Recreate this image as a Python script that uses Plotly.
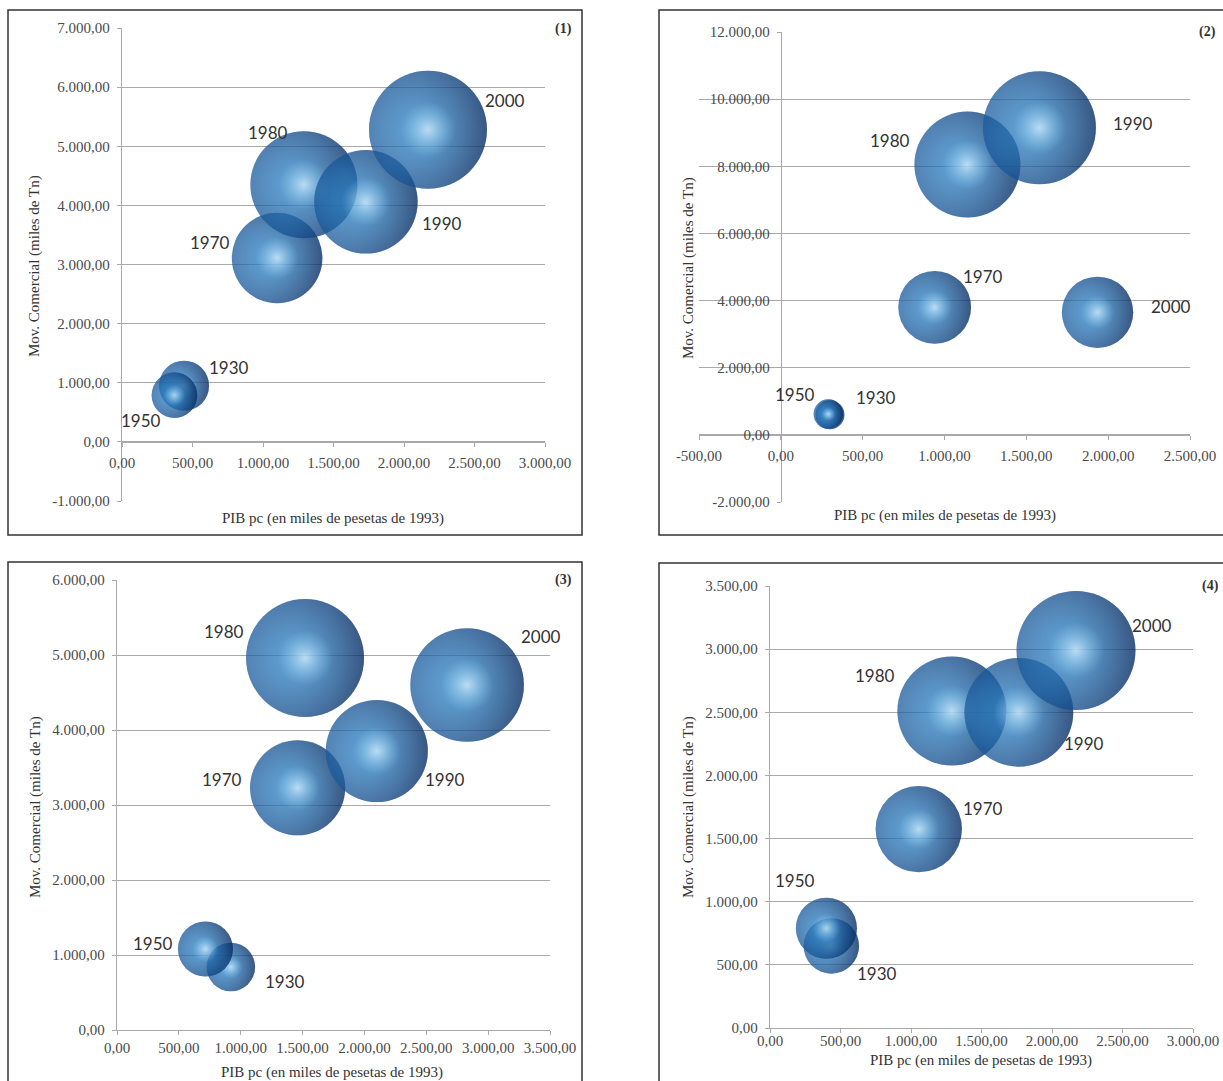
import math
import plotly.graph_objects as go

W, H = 1223, 1081

# ---------------- data ----------------
years = [1930, 1950, 1970, 1980, 1990, 2000]

p1_pib = [440, 372, 1100, 1290, 1730, 2170]
p1_mov = [950, 790, 3110, 4350, 4060, 5280]

p2_pib = [300, 290, 940, 1140, 1580, 1935]
p2_mov = [600, 620, 3800, 8050, 9150, 3650]

p3_pib = [920, 715, 1460, 1520, 2100, 2830]
p3_mov = [840, 1080, 3230, 4960, 3720, 4600]

p4_pib = [435, 400, 1055, 1290, 1765, 2170]
p4_mov = [650, 790, 1575, 2510, 2500, 2990]

x_title = "PIB pc (en miles de pesetas de 1993)"
y_title = "Mov. Comercial (miles de Tn)"
panel_tags = ["(1)", "(2)", "(3)", "(4)"]


def fmt(v):
    s = f"{v:,.2f}"
    return s.replace(",", "X").replace(".", ",").replace("X", ".")


# ---------------- layout specs (pixels) ----------------
panels = [
    dict(pib=p1_pib, mov=p1_mov, px=(122, 545), py=(28, 501),
         xr=(0, 3000), xd=500, yr=(-1000, 7000), yd=1000, dmax=118,
         xfree=True, yfree=False, xstand=3,
         box=(8, 10, 582, 535), tag=(563, 29), xt=(333, 518), yt=(35, 266),
         lab={1930: (0.92, -0.72, 'l'), 1950: (-0.5, 1.1, 'r'), 1970: (-1.0, -0.34, 'r'),
              1980: (-0.26, -0.97, 'r'), 1990: (1.04, 0.41, 'l'), 2000: (0.94, -0.49, 'l')}),
    dict(pib=p2_pib, mov=p2_mov, px=(699, 1190), py=(32, 502),
         xr=(-500, 2500), xd=500, yr=(-2000, 12000), yd=2000, dmax=113,
         xfree=True, yfree=True, xstand=3,
         box=(659, 10, 1240, 535), tag=(1207, 32), xt=(945, 515), yt=(688, 268),
         lab={1930: (1.66, -1.16, 'l'), 1950: (-0.8, -1.33, 'r'), 1970: (0.71, -0.85, 'l'),
              1980: (-1.05, -0.45, 'r'), 1990: (1.27, -0.08, 'l'), 2000: (1.45, -0.16, 'l')}),
    dict(pib=p3_pib, mov=p3_mov, px=(117, 550), py=(580, 1030),
         xr=(0, 3500), xd=500, yr=(0, 6000), yd=1000, dmax=118,
         xfree=False, yfree=False, xstand=0,
         box=(8, 562, 582, 1100), tag=(563, 580), xt=(332, 1072), yt=(35, 807),
         lab={1930: (1.32, 0.6, 'l'), 1950: (-1.11, -0.21, 'r'), 1970: (-1.13, -0.17, 'r'),
              1980: (-1.0, -0.45, 'r'), 1990: (0.91, 0.55, 'l'), 2000: (0.91, -0.86, 'l')}),
    dict(pib=p4_pib, mov=p4_mov, px=(770, 1193), py=(586, 1028),
         xr=(0, 3000), xd=500, yr=(0, 3500), yd=500, dmax=119,
         xfree=False, yfree=False, xstand=-5,
         box=(659, 563, 1240, 1100), tag=(1210, 586), xt=(981, 1060), yt=(688, 807),
         lab={1930: (0.86, 1.0, 'l'), 1950: (-0.31, -1.57, 'r'), 1970: (0.98, -0.47, 'l'),
              1980: (-1.0, -0.66, 'r'), 1990: (0.8, 0.57, 'l'), 2000: (0.9, -0.42, 'l')}),
]

GRID = '#a9a9a9'
TICKFONT = dict(family='Liberation Serif', size=15, color='#4a4a4a')
TITLEFONT = dict(family='Liberation Serif', size=15, color='#333333')
LABELFONT = dict(family='Lato', size=17, color='#333333')

fig = go.Figure()
layout = dict(width=W, height=H, margin=dict(l=0, r=0, t=0, b=0, pad=0, autoexpand=False),
              paper_bgcolor='white', plot_bgcolor='rgba(0,0,0,0)',
              showlegend=False, shapes=[], annotations=[])


def fx(px):
    return px / W


def fy(py):
    return 1 - py / H


for k, p in enumerate(panels, start=1):
    xa = 'x' if k == 1 else f'x{k}'
    ya = 'y' if k == 1 else f'y{k}'
    xkey = 'xaxis' if k == 1 else f'xaxis{k}'
    ykey = 'yaxis' if k == 1 else f'yaxis{k}'

    x0, x1 = p['xr']
    y0, y1 = p['yr']
    px0, px1 = p['px']
    pyt, pyb = p['py']

    xt_vals = list(range(x0, x1 + 1, p['xd']))
    yt_vals = list(range(y0, y1 + 1, p['yd']))

    xaxis = dict(domain=[fx(px0), fx(px1)], range=[x0, x1], automargin=False,
                 tickvals=xt_vals, ticktext=[fmt(v) for v in xt_vals],
                 showgrid=False, zeroline=False, showline=True, linecolor=GRID, linewidth=1.3,
                 ticks='outside', ticklen=4, tickcolor=GRID, tickfont=TICKFONT,
                 ticklabelstandoff=p['xstand'], fixedrange=True)
    yaxis = dict(domain=[fy(pyb), fy(pyt)], range=[y0, y1], automargin=False,
                 tickvals=yt_vals, ticktext=[fmt(v) for v in yt_vals],
                 showgrid=True, gridcolor=GRID, gridwidth=1.3,
                 zeroline=False, showline=True, linecolor=GRID, linewidth=1.3,
                 ticks='outside', ticklen=4, tickcolor=GRID, tickfont=TICKFONT,
                 ticklabelstandoff=4, fixedrange=True)
    if p['xfree']:
        zero_py = pyt + (y1 - 0) / (y1 - y0) * (pyb - pyt)
        xaxis.update(anchor='free', position=fy(zero_py))
    else:
        xaxis.update(anchor=ya)
    if p['yfree']:
        zero_px = px0 + (0 - x0) / (x1 - x0) * (px1 - px0)
        yaxis.update(anchor='free', position=fx(zero_px))
    else:
        yaxis.update(anchor=xa)
    layout[xkey] = xaxis
    layout[ykey] = yaxis

    maxv = max(p['mov'])
    dmax = p['dmax']
    sref = 2.0 * maxv / dmax ** 2

    for yr_, xv, yv in zip(years, p['pib'], p['mov']):
        common = dict(x=[xv], y=[yv], xaxis=xa, yaxis=ya, mode='markers',
                      hoverinfo='skip', showlegend=False, cliponaxis=False)
        # sphere body
        fig.add_trace(go.Scatter(**common, marker=dict(
            size=[yv], sizemode='area', sizeref=sref, color='#083c80',
            gradient=dict(type='radial', color='#38a0ec'), line=dict(width=0))))
        # darker right side
        fig.add_trace(go.Scatter(**common, marker=dict(
            size=[yv], sizemode='area', sizeref=sref, color='rgba(90,190,245,0.25)',
            gradient=dict(type='horizontal', color='rgba(0,18,55,0.45)'), line=dict(width=0))))
        # specular glow
        fig.add_trace(go.Scatter(**common, marker=dict(
            size=[yv], sizemode='area', sizeref=sref * 4.5, color='rgba(150,215,250,0)',
            gradient=dict(type='radial', color='rgba(240,250,255,0.9)'), line=dict(width=0))))

        r = dmax / 2 * math.sqrt(yv / maxv)
        lfx, lfy, anc = p['lab'][yr_]
        layout['annotations'].append(dict(
            x=xv, y=yv, xref=xa, yref=ya, text=str(yr_), showarrow=False,
            xanchor='left' if anc == 'l' else 'right', yanchor='middle',
            xshift=lfx * r, yshift=-lfy * r, font=LABELFONT))

    bx0, by0, bx1, by1 = p['box']
    layout['shapes'].append(dict(type='rect', xref='paper', yref='paper',
                                 x0=fx(bx0), x1=fx(bx1), y0=fy(by1), y1=fy(by0),
                                 line=dict(color='#333333', width=1.5), layer='below'))
    layout['annotations'].append(dict(x=fx(p['tag'][0]), y=fy(p['tag'][1]), xref='paper', yref='paper',
                                      text='<b>' + panel_tags[k - 1] + '</b>', showarrow=False,
                                      xanchor='center', yanchor='middle',
                                      font=dict(family='Liberation Serif', size=14, color='#333333')))
    layout['annotations'].append(dict(x=fx(p['xt'][0]), y=fy(p['xt'][1]), xref='paper', yref='paper',
                                      text=x_title, showarrow=False, xanchor='center', yanchor='middle',
                                      font=TITLEFONT))
    layout['annotations'].append(dict(x=fx(p['yt'][0]), y=fy(p['yt'][1]), xref='paper', yref='paper',
                                      text=y_title, showarrow=False, xanchor='center', yanchor='middle',
                                      textangle=-90, font=TITLEFONT))

layout['separators'] = ',.'
fig.update_layout(**layout)
fig.write_html("out.html")
